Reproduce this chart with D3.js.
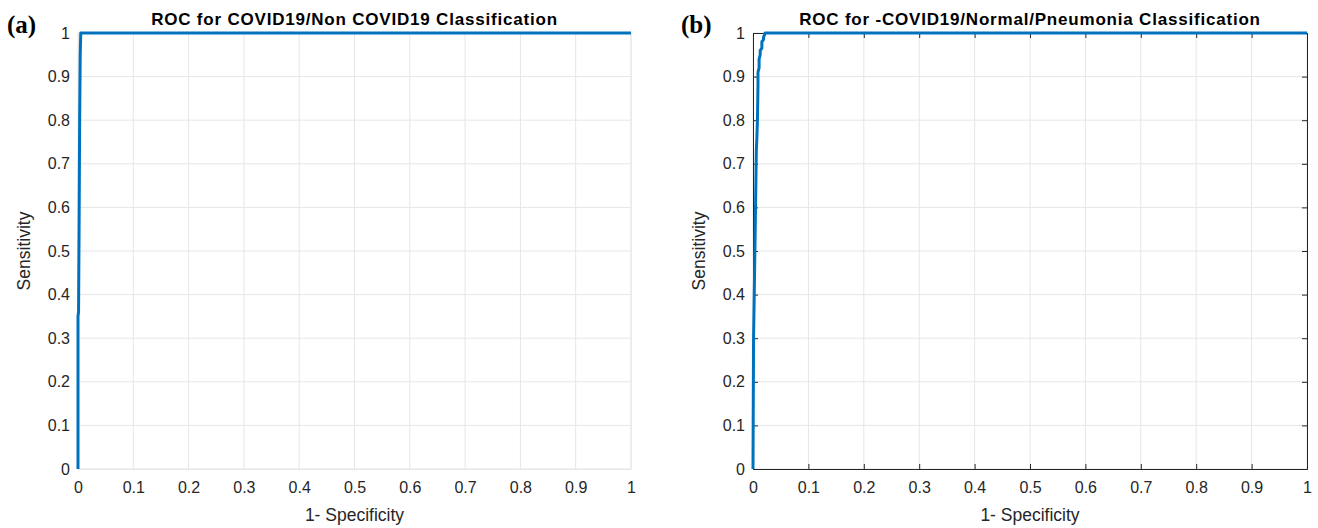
<!DOCTYPE html>
<html><head><meta charset="utf-8">
<script src="https://cdn.jsdelivr.net/npm/d3@7"></script>
<style>body{margin:0;background:#fff}svg{display:block}</style>
</head><body><svg id="c" width="1318" height="528"></svg>
<script>
const ticks = [0,0.1,0.2,0.3,0.4,0.5,0.6,0.7,0.8,0.9,1];
const tickLabels = ["0","0.1","0.2","0.3","0.4","0.5","0.6","0.7","0.8","0.9","1"];
const fprA = [0, 0, 0.001, 0.002, 0.003, 0.004, 0.005, 1];
const tprA = [0, 0.35, 0.36, 0.56, 0.80, 0.95, 1, 1];
const fprB = [0, 0.001, 0.002, 0.004, 0.006, 0.007, 0.008, 0.009, 0.009, 0.011, 0.011, 0.013, 0.013, 0.016, 0.016, 0.019, 0.019, 0.022, 1];
const tprB = [0, 0.30, 0.38, 0.55, 0.73, 0.76, 0.80, 0.88, 0.91, 0.92, 0.94, 0.95, 0.96, 0.965, 0.98, 0.985, 0.99, 1, 1];
const titles = ["ROC for COVID19/Non COVID19 Classification", "ROC for -COVID19/Normal/Pneumonia Classification"];
const panelLabels = ["(a)", "(b)"];
const xLabel = "1- Specificity", yLabel = "Sensitivity";

const FONT = "Arial, 'Liberation Sans', sans-serif";
const svg = d3.select("#c");
const panels = [
  {x0:78, x1:631, fpr:fprA, tpr:tprA, box:false, title:titles[0], tag:panelLabels[0], tagX:7},
  {x0:753, x1:1307, fpr:fprB, tpr:tprB, box:true, title:titles[1], tag:panelLabels[1], tagX:681}
];
const yTop = 33, yBot = 469;
panels.forEach(p => {
  const x = d3.scaleLinear().domain([0,1]).range([p.x0, p.x1]);
  const y = d3.scaleLinear().domain([0,1]).range([yBot, yTop]);
  const g = svg.append("g");
  // grid
  g.selectAll(".gx").data(ticks).join("line")
    .attr("x1", d=>x(d)).attr("x2", d=>x(d)).attr("y1", yTop).attr("y2", yBot)
    .attr("stroke", "#e6e6e6").attr("stroke-width", 1);
  g.selectAll(".gy").data(ticks).join("line")
    .attr("y1", d=>y(d)).attr("y2", d=>y(d)).attr("x1", p.x0).attr("x2", p.x1)
    .attr("stroke", "#e6e6e6").attr("stroke-width", 1);
  // axes
  const ax = d3.axisBottom(x).tickValues(ticks).tickFormat((d,i)=>tickLabels[i]).tickSize(p.box ? -5 : 0).tickPadding(12.5);
  const ay = d3.axisLeft(y).tickValues(ticks).tickFormat((d,i)=>tickLabels[i]).tickSize(p.box ? -5 : 0).tickPadding(8);
  const gx = g.append("g").attr("transform", `translate(0,${yBot})`).call(ax);
  const gy = g.append("g").attr("transform", `translate(${p.x0},0)`).call(ay);
  [gx, gy].forEach(a => {
    a.select(".domain").attr("stroke", p.box ? "#262626" : "#e6e6e6");
    a.selectAll(".tick line").attr("stroke", "#262626");
    a.selectAll("text").attr("font-family", FONT).attr("font-size", 16).attr("fill", "#262626");
  });
  if (p.box) {
    const ax2 = d3.axisTop(x).tickValues(ticks).tickFormat("").tickSize(-5);
    const ay2 = d3.axisRight(y).tickValues(ticks).tickFormat("").tickSize(-5);
    const t = g.append("g").attr("transform", `translate(0,${yTop})`).call(ax2);
    const r = g.append("g").attr("transform", `translate(${p.x1},0)`).call(ay2);
    [t, r].forEach(a => { a.select(".domain").attr("stroke", "#262626"); a.selectAll(".tick line").attr("stroke", "#262626"); });
  } else {
    g.append("line").attr("x1", p.x0).attr("x2", p.x1).attr("y1", yTop).attr("y2", yTop).attr("stroke", "#e6e6e6");
    g.append("line").attr("x1", p.x1).attr("x2", p.x1).attr("y1", yTop).attr("y2", yBot).attr("stroke", "#e6e6e6");
  }
  // curve
  const pts = p.fpr.map((f,i)=>[f, p.tpr[i]]);
  g.append("path").datum(pts)
    .attr("d", d3.line().x(d=>x(d[0])).y(d=>y(d[1])))
    .attr("fill", "none").attr("stroke", "#0072BD").attr("stroke-width", 3).attr("stroke-linejoin", "round");
  // labels
  g.append("text").attr("x", (p.x0+p.x1)/2).attr("y", 25).attr("text-anchor", "middle")
    .attr("font-family", FONT).attr("font-weight", "bold").attr("font-size", 17).attr("letter-spacing", 0.8)
    .attr("fill", "#000").text(p.title);
  g.append("text").attr("x", (p.x0+p.x1)/2).attr("y", 521).attr("text-anchor", "middle")
    .attr("font-family", FONT).attr("font-size", 17.5)
    .attr("fill", "#262626").text(xLabel);
  g.append("text").attr("transform", `translate(${p.x0-48.5},${(yTop+yBot)/2}) rotate(-90)`).attr("text-anchor", "middle")
    .attr("font-family", FONT).attr("font-size", 17.5)
    .attr("fill", "#262626").text(yLabel);
  g.append("text").attr("x", p.tagX).attr("y", 33)
    .attr("font-family", "'Times New Roman', 'Liberation Serif', serif").attr("font-weight", "bold").attr("font-size", 25)
    .attr("fill", "#000").text(p.tag);
});
</script></body></html>
